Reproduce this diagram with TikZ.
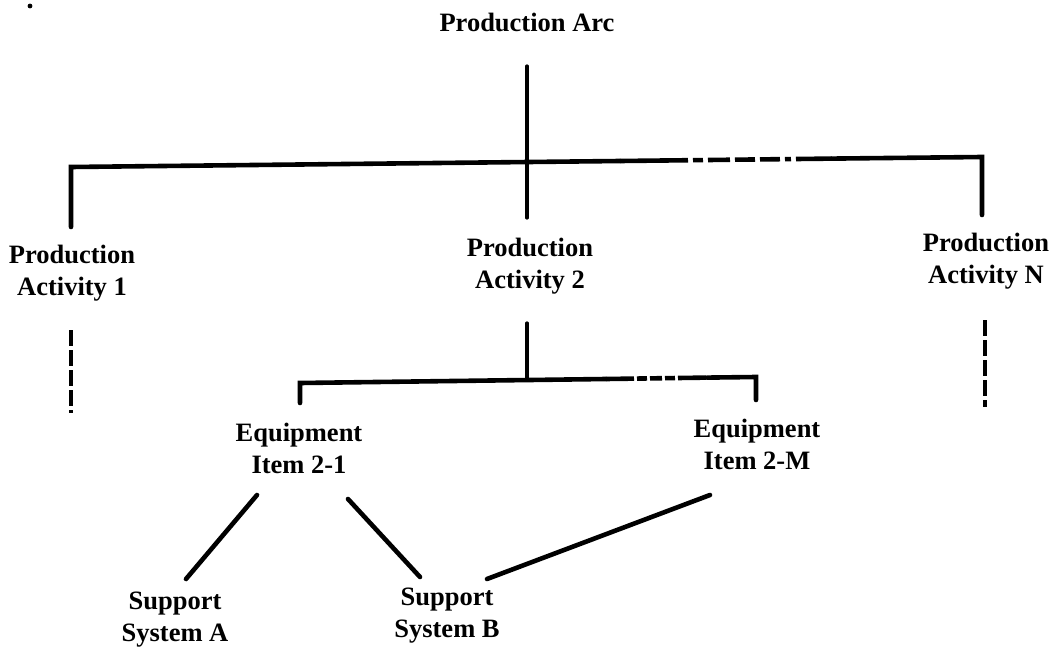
\documentclass[tikz,border=0pt]{standalone}
\usepackage{fontspec}
\setmainfont{Liberation Serif}
\usetikzlibrary{calc}

\begin{document}
\begin{tikzpicture}[x=0.5pt,y=-0.5pt,
    lbl/.style={font=\bfseries\fontsize{13.25}{16}\selectfont, align=center, inner sep=0pt},
    bar/.style={line width=2.3pt, line cap=round},
    stem/.style={line width=1.6pt, line cap=round},
    gapbar/.style={line width=2.3pt, dash pattern=on 34pt off 2.5pt on 5pt off 2.5pt on 11pt off 2.5pt on 10pt off 2.5pt on 10pt off 2.5pt on 3pt off 2.5pt},
    gapbar2/.style={line width=2.3pt, dash pattern=on 14pt off 1.5pt on 5pt off 1.5pt on 6pt off 1.5pt on 5pt off 1.5pt},
    gapstem/.style={line width=1.6pt, dash pattern=on 8pt off 2pt}]
  \useasboundingbox (0,0) rectangle (1056,653);
  \fill (30,6) circle (1.2pt);

  \node[lbl] (arc) at (527,22) {Production Arc};
  \node[lbl] (pa1) at (72,273) {Production\\Activity 1};
  \node[lbl] (pa2) at (530,266) {Production\\Activity 2};
  \node[lbl] (paN) at (986,261) {Production\\Activity N};
  \node[lbl] (eqa) at (299,448) {Equipment\\Item 2-1};
  \node[lbl] (eqm) at (757,444) {Equipment\\Item 2-M};
  \node[lbl] (ssa) at (175,620) {Support\\System A};
  \node[lbl] (ssb) at (447,616) {Support\\System B};

  \coordinate (arc-top) at (527,66);
  \coordinate (arc-bot) at (527,218);
  \coordinate (pa1-top) at (71,227);
  \coordinate (t-l) at (71,167);
  \coordinate (t-d1) at (620,161);
  \coordinate (t-d2) at (832,158.6);
  \coordinate (t-r) at (982,157);
  \coordinate (paN-top) at (982,215);
  \coordinate (pa1-a) at (71,330);
  \coordinate (pa1-b) at (71,413);
  \coordinate (paN-a) at (985,320);
  \coordinate (paN-b) at (985,407);

  \coordinate (pa2-a) at (527,323);
  \coordinate (pa2-b) at (527,380);
  \coordinate (eqa-top) at (300,403);
  \coordinate (e-l) at (300,383);
  \coordinate (e-d1) at (606,379);
  \coordinate (e-d2) at (707,377.6);
  \coordinate (e-r) at (756,377);
  \coordinate (eqm-top) at (756,400);

  \draw[stem] (arc-top) -- (arc-bot);
  \draw[bar] (pa1-top) -- (t-l) -- (t-d1);
  \draw[gapbar] (t-d1) -- (t-d2);
  \draw[bar] (t-d2) -- (t-r) -- (paN-top);
  \draw[gapstem] (pa1-a) -- (pa1-b);
  \draw[gapstem] (paN-a) -- (paN-b);

  \draw[stem] (pa2-a) -- (pa2-b);
  \draw[bar] (eqa-top) -- (e-l) -- (e-d1);
  \draw[gapbar2] (e-d1) -- (e-d2);
  \draw[bar] (e-d2) -- (e-r) -- (eqm-top);

  \draw[bar] ($(eqa)+(-42,47)$) -- ($(ssa)+(11,-41)$);
  \draw[bar] ($(eqa)+(49,51)$) -- ($(ssb)+(-27,-39)$);
  \draw[bar] ($(eqm)+(-47,51)$) -- ($(ssb)+(40,-37)$);
\end{tikzpicture}
\end{document}
